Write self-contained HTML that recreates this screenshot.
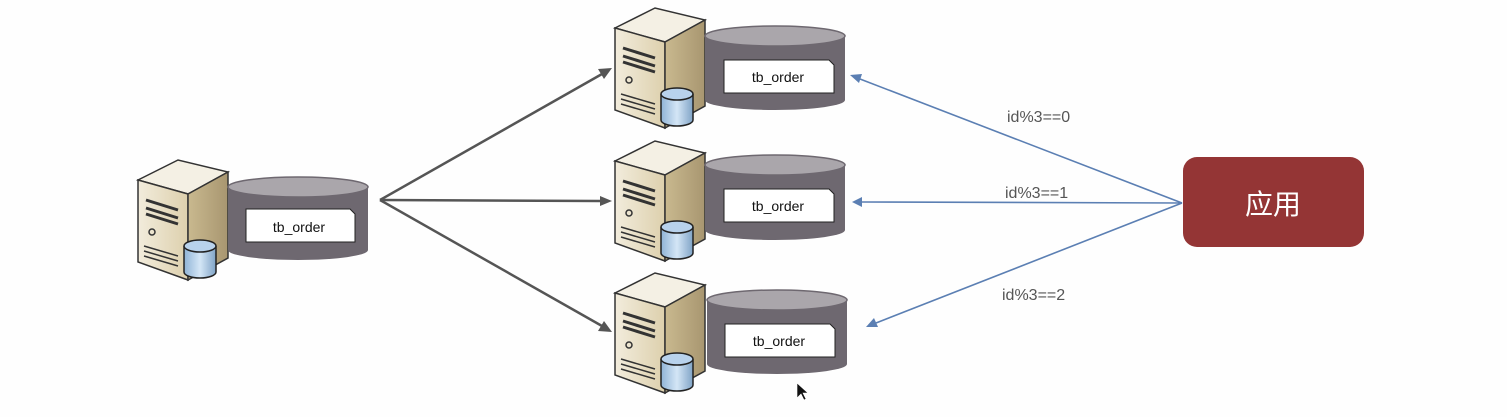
<!DOCTYPE html>
<html><head><meta charset="utf-8"><style>
html,body{margin:0;padding:0;background:#fefefe;width:1507px;height:417px;overflow:hidden}
svg{display:block}
</style></head><body>
<svg width="1507" height="417" viewBox="0 0 1507 417" xmlns="http://www.w3.org/2000/svg">
<defs>
<linearGradient id="front" x1="0" y1="0" x2="1" y2="0"><stop offset="0" stop-color="#f2ecdc"/><stop offset="1" stop-color="#ddd0ad"/></linearGradient>
<linearGradient id="side" x1="0" y1="0" x2="1" y2="0"><stop offset="0" stop-color="#c9b98f"/><stop offset="1" stop-color="#a89670"/></linearGradient>
<linearGradient id="mini" x1="0" y1="0" x2="1" y2="0"><stop offset="0" stop-color="#8fb3d6"/><stop offset="0.5" stop-color="#d4e6f6"/><stop offset="1" stop-color="#7fa3c6"/></linearGradient>
<g id="srv">
<polygon points="0,22 40,2 90,14 50,36" fill="#f4f0e4" stroke="#333" stroke-width="1.5"/>
<polygon points="0,22 50,36 50,122 0,104" fill="url(#front)" stroke="#333" stroke-width="1.5"/>
<polygon points="50,36 90,14 90,100 50,122" fill="url(#side)" stroke="#333" stroke-width="1.5"/>
<path d="M8,42 L40,52 M8,50 L40,60 M8,56 L40,66" stroke="#333" stroke-width="3"/>
<circle cx="14" cy="74" r="3" fill="none" stroke="#333" stroke-width="1.5"/>
<path d="M6,88 L40,98 M6,93 L40,103 M6,98 L40,108" stroke="#333" stroke-width="1.5"/>
<path d="M46,88 L46,114 A16,6 0 0 0 78,114 L78,88" fill="url(#mini)" stroke="#222" stroke-width="1.5"/>
<ellipse cx="62" cy="88" rx="16" ry="6" fill="#b8d2ec" stroke="#222" stroke-width="1.5"/>
</g>
</defs>
<g stroke="#555" stroke-width="2.5" fill="none">
<line x1="380" y1="200" x2="602" y2="74"/>
<line x1="380" y1="200" x2="600" y2="201"/>
<line x1="380" y1="200" x2="602" y2="326"/>
</g>
<g fill="#555">
<polygon points="612,68 598,69 604,79"/>
<polygon points="612,201 600,196 600,206"/>
<polygon points="612,332 604,321 598,331"/>
</g>
<g stroke="#5b7fb3" stroke-width="1.6" fill="none">
<line x1="1182" y1="203" x2="860" y2="79"/>
<line x1="1182" y1="203" x2="862" y2="202"/>
<line x1="1182" y1="203" x2="876" y2="323"/>
</g>
<g fill="#5b7fb3">
<polygon points="850,75 862,74 859,83"/>
<polygon points="852,202 862,197 862,207"/>
<polygon points="866,327 874,318 878,327"/>
</g>
<use href="#srv" x="138" y="158"/>
<use href="#srv" x="615" y="6"/>
<use href="#srv" x="615" y="139"/>
<use href="#srv" x="615" y="271"/>
<g>
<path d="M228,187 L228,250 A70,10 0 0 0 368,250 L368,187 Z" fill="#6e6870"/>
<ellipse cx="298" cy="187" rx="70" ry="10" fill="#aaa6ab" stroke="#6e6870" stroke-width="1.5"/>
<path d="M246,209 L350,209 L355,214 L355,242 L246,242 Z" fill="#fff" stroke="#222" stroke-width="1"/>
<text x="299" y="232" font-family="Liberation Sans, sans-serif" font-size="14" text-anchor="middle" fill="#111">tb_order</text>
</g>
<g>
<path d="M705,36 L705,100 A70,10 0 0 0 845,100 L845,36 Z" fill="#6e6870"/>
<ellipse cx="775" cy="36" rx="70" ry="10" fill="#aaa6ab" stroke="#6e6870" stroke-width="1.5"/>
<path d="M724,60 L829,60 L834,65 L834,93 L724,93 Z" fill="#fff" stroke="#222" stroke-width="1"/>
<text x="778" y="82" font-family="Liberation Sans, sans-serif" font-size="14" text-anchor="middle" fill="#111">tb_order</text>
</g>
<g>
<path d="M705,165 L705,230 A70,10 0 0 0 845,230 L845,165 Z" fill="#6e6870"/>
<ellipse cx="775" cy="165" rx="70" ry="10" fill="#aaa6ab" stroke="#6e6870" stroke-width="1.5"/>
<path d="M724,189 L829,189 L834,194 L834,222 L724,222 Z" fill="#fff" stroke="#222" stroke-width="1"/>
<text x="778" y="211" font-family="Liberation Sans, sans-serif" font-size="14" text-anchor="middle" fill="#111">tb_order</text>
</g>
<g>
<path d="M707,300 L707,364 A70,10 0 0 0 847,364 L847,300 Z" fill="#6e6870"/>
<ellipse cx="777" cy="300" rx="70" ry="10" fill="#aaa6ab" stroke="#6e6870" stroke-width="1.5"/>
<path d="M725,324 L830,324 L835,329 L835,357 L725,357 Z" fill="#fff" stroke="#222" stroke-width="1"/>
<text x="779" y="346" font-family="Liberation Sans, sans-serif" font-size="14" text-anchor="middle" fill="#111">tb_order</text>
</g>
<g font-family="Liberation Sans, sans-serif" font-size="16" fill="#555">
<text x="1007" y="122">id%3==0</text>
<text x="1005" y="198">id%3==1</text>
<text x="1002" y="300">id%3==2</text>
</g>
<rect x="1183" y="157" width="181" height="90" rx="14" fill="#943535"/>
<text x="1273" y="214" font-family="Liberation Sans, Noto Sans CJK SC, sans-serif" font-size="28" text-anchor="middle" fill="#fff">应用</text>
<polygon points="797,383 797,398 801,394 804,400 806,399 803,393 808,393" fill="#111" stroke="#fff" stroke-width="0.6"/>
</svg>
</body></html>
